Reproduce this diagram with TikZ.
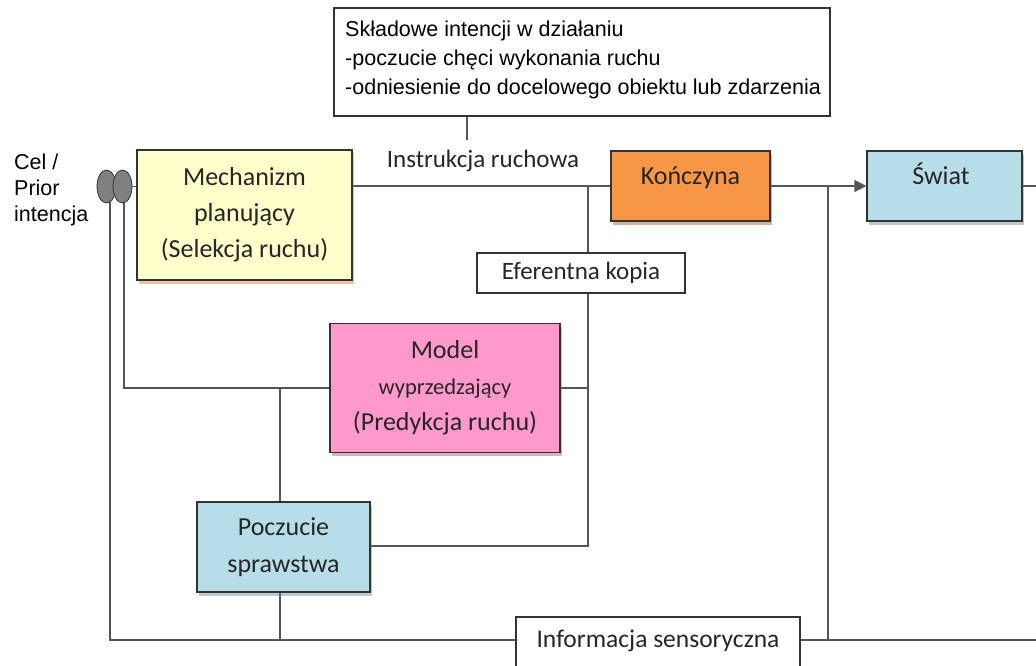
\documentclass[tikz,border=0pt]{standalone}
\usepackage{fontspec}
\setmainfont{Carlito}
\newfontfamily\arialf{Liberation Sans}
\usetikzlibrary{arrows.meta,shadows,shapes.geometric,backgrounds}
\definecolor{mechfill}{HTML}{FFFFCC}
\definecolor{koncfill}{HTML}{F79646}
\definecolor{bluefill}{HTML}{B7DEE8}
\definecolor{modelfill}{HTML}{FF99CC}
\definecolor{wirecol}{HTML}{555555}
\definecolor{edgecol}{HTML}{333333}
\tikzset{
  blk/.style={draw=edgecol, line width=1.2pt, inner sep=0pt, align=center,
    font=\fontsize{26}{36}\selectfont, text=black!85},
  sh/.style={drop shadow={shadow xshift=1.5pt, shadow yshift=-3.5pt, fill=#1, opacity=.45}},
  plainbox/.style={draw=edgecol, line width=1.2pt, fill=white, inner sep=0pt},
  wire/.style={draw=wirecol, line width=1.2pt},
  lbl/.style={font=\fontsize{25}{28}\selectfont, text=black!85, inner sep=0pt},
  arl/.style={font=\arialf\fontsize{21.5}{29}\selectfont, inner sep=0pt, align=left},
  knob/.style={ellipse, draw=edgecol, fill=black!50, line width=0.8pt,
    minimum width=19pt, minimum height=33pt, inner sep=0pt},
}
\begin{document}
\begin{tikzpicture}[x=1pt,y=-1pt]
\useasboundingbox (0,0) rectangle (1036,666);
\clip (0,0) rectangle (1036,666);

% intention components box
\node[plainbox, minimum width=496pt, minimum height=108pt] (comp) at (582,62) {};
\node[arl, anchor=north west] (comptext) at (345,21)
  {Składowe intencji w działaniu\\-poczucie chęci wykonania ruchu\\-odniesienie do docelowego obiektu lub zdarzenia};

% goal / prior intention
\node[arl, anchor=north west, font=\arialf\fontsize{21.5}{26}\selectfont] (cel) at (14,154) {Cel /\\Prior\\intencja};
\node[knob] (e1) at (106.5,186.5) {};
\node[knob] (e2) at (122.5,186.5) {};

% main blocks
\node[blk, sh=brown!70!orange, fill=mechfill, minimum width=215pt, minimum height=130pt] (mech) at (244.5,215)
  {Mechanizm\\planujący\\(Selekcja ruchu)};
\node[blk, sh=koncfill!60!black, fill=koncfill, minimum width=159pt, minimum height=70pt] (konc) at (690.5,186) {};
\node[lbl, anchor=base, font=\fontsize{26}{28}\selectfont] at (690.5,184) {Kończyna};
\node[blk, sh=bluefill!60!black, fill=bluefill, minimum width=155pt, minimum height=70pt] (swiat) at (944.5,186) {};
\node[lbl, anchor=base, font=\fontsize{26}{28}\selectfont] at (941,184) {Świat};
\node[blk, sh=modelfill!60!black, fill=modelfill, minimum width=230pt, minimum height=129pt] (model) at (445,388)
  {Model\\{\fontsize{22.5}{36}\selectfont wyprzedzający}\\(Predykcja ruchu)};
\node[blk, sh=bluefill!60!black, fill=bluefill, minimum width=173pt, minimum height=90pt,
  font=\fontsize{26}{37}\selectfont] (pocz) at (283.5,547) {Poczucie\\sprawstwa};
\node[plainbox, minimum width=208pt, minimum height=40pt] (eff) at (581,273) {};
\node[lbl] at (eff.center) {Eferentna kopia};
\node[plainbox, minimum width=284pt, minimum height=66pt] (info) at (658,650) {};
\node[lbl, font=\fontsize{25.5}{28}\selectfont] at (658,641) {Informacja sensoryczna};
\node[lbl] (instr) at (483,161) {Instrukcja ruchowa};

% junction points
\coordinate (stem) at (467,140);
\coordinate (vA) at (110,640);
\coordinate (vB) at (124,388);
\coordinate (vC) at (280,388);
\coordinate (vCb) at (280,640);
\coordinate (vD) at (588,186);
\coordinate (vDb) at (588,546);
\coordinate (vE) at (828,186);
\coordinate (vEb) at (828,640);
\coordinate (rtop) at (1036,186);
\coordinate (rbot) at (1036,640);

\begin{scope}[on background layer]
  \draw[wire] (comp.south -| stem) -- (stem);
  \draw[wire] (e2.center) -- (mech.west |- e2.center);
  \draw[wire] (mech.east |- konc.west) -- (konc.west);
  \draw[wire, -{Triangle[length=12pt,width=12pt]}] (konc.east) -- (swiat.west);
  \draw[wire] (swiat.east) -- (rtop);
  % feedback from the first knob to the sensory line
  \draw[wire] (e1.center -| vA) -- (vA) -- (info.west |- vA);
  \draw[wire] (info.east |- vA) -- (rbot);
  % second knob to the forward model
  \draw[wire] (e2.center -| vB) -- (vB) -- (model.west |- vB);
  % agency links
  \draw[wire] (vC) -- (pocz.north -| vC);
  \draw[wire] (pocz.south -| vC) -- (vCb);
  \draw[wire] (vD) -- (eff.north -| vD);
  \draw[wire] (eff.south -| vD) -- (vDb) -- (pocz.east |- vDb);
  \draw[wire] (model.east |- vB) -- (vB -| vD);
  % world output tap
  \draw[wire] (vE) -- (vEb);
\end{scope}
\end{tikzpicture}
\end{document}
